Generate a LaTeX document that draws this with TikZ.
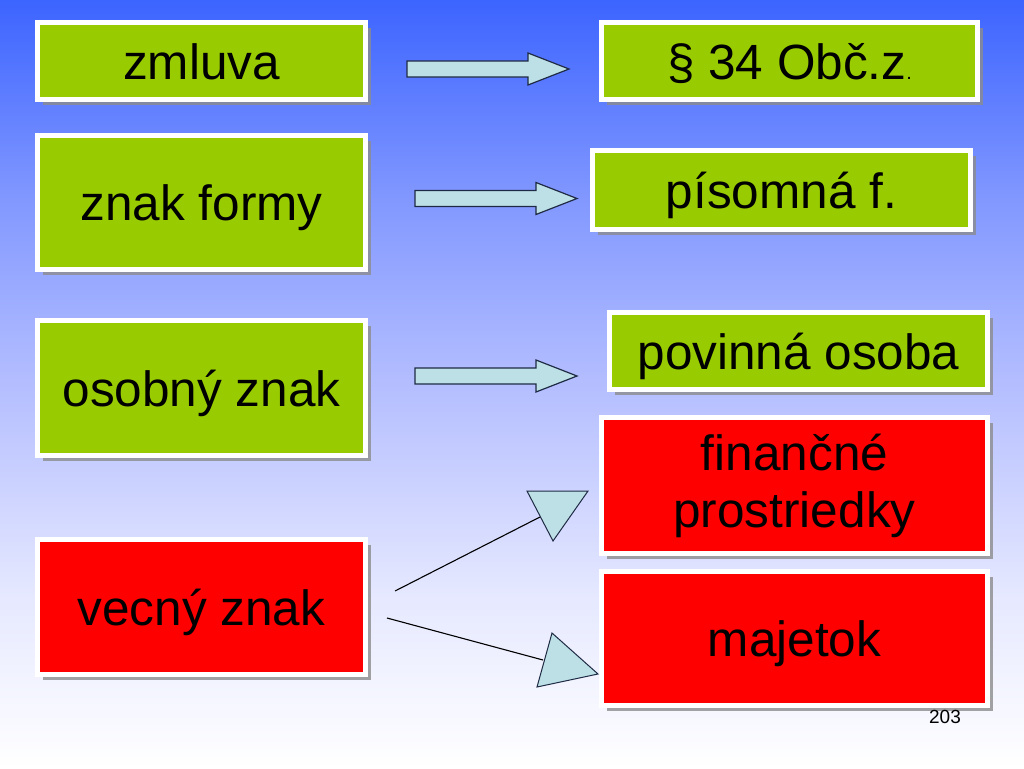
\documentclass[tikz,border=0pt]{standalone}
\usepackage{fontspec}
\setmainfont{Liberation Sans}
\usetikzlibrary{shadows}

\definecolor{boxgreen}{HTML}{99CC00}
\definecolor{boxred}{HTML}{FF0000}
\definecolor{arrowfill}{HTML}{BCE0E6}
\definecolor{arrowline}{HTML}{1F2A44}
\definecolor{bgtop}{HTML}{3C64FF}
\definecolor{bgupper}{HTML}{8298FF}
\definecolor{bgmid}{HTML}{B4BEFF}
\definecolor{bglow}{HTML}{E6E9FF}
\pgfdeclareverticalshading{slidebg}{100bp}{color(0bp)=(white); color(25bp)=(white); color(36bp)=(bglow); color(50bp)=(bgmid); color(62bp)=(bgupper); color(75bp)=(bgtop); color(100bp)=(bgtop)}

\begin{document}
\begin{tikzpicture}[x=1pt,y=-1pt]
\tikzstyle{box}=[draw=white, line width=5pt, inner sep=0pt, align=center, font=\fontsize{49.5}{57}\selectfont, drop shadow={shadow xshift=5.5pt, shadow yshift=-5.5pt, fill=black!45, opacity=0.8}]
\tikzstyle{oneline}=[text height=36pt, text depth=0pt]
\tikzstyle{green}=[box, oneline, fill=boxgreen]
\tikzstyle{red}=[box, fill=boxred]
\tikzstyle{blockarrow}=[draw=arrowline, line width=1.2pt, fill=arrowfill, line join=miter]
\tikzstyle{thinline}=[draw=black, line width=1.1pt]

% background
\shade[shading=slidebg] (0,0) rectangle (1024,768);
\useasboundingbox (0,0) rectangle (1024,768);

% left column
\node[green, minimum width=328pt, minimum height=77pt]  (zmluva)    at (201.5,61)  {zmluva};
\node[green, minimum width=328pt, minimum height=134pt] (znakformy) at (201.5,202.5) {znak formy};
\node[green, minimum width=328pt, minimum height=135pt] (osobny)    at (201.5,388) {osobný znak};
\node[red, oneline, minimum width=328pt, minimum height=135pt] (vecny) at (201.5,607) {vecný znak};

% right column
\node[green, minimum width=376pt, minimum height=77pt]  (paragraf)  at (789.5,61)  {§ 34 Obč.z{\fontsize{20}{24}\selectfont .}};
\node[green, minimum width=378pt, minimum height=79pt]  (pisomna)   at (781.5,190) {písomná f.};
\node[green, minimum width=378pt, minimum height=77pt]  (povinna)   at (798.5,351) {povinná osoba};
\node[red,   minimum width=386pt, minimum height=136pt] (financne)  at (794.5,485.5) {finančné\\prostriedky};
\node[red, oneline, minimum width=386pt, minimum height=134pt] (majetok) at (794.5,638.5) {majetok};

% block arrows
\foreach \name/\x/\y in {a1/407/69, a2/415/198.5, a3/415/376} {
  \coordinate (\name) at (\x,\y);
  \draw[blockarrow] (\name) ++(0,-8) -- ++(121,0) -- ++(0,-8) -- ++(41,16)
    -- ++(-41,16) -- ++(0,-8) -- ++(-121,0) -- cycle;
}

% vecny znak -> financne, majetok
\coordinate (s1) at (395,591);
\coordinate (e1) at (540,517);
\coordinate (s2) at (387,618);
\coordinate (e2) at (543,660);
\draw[thinline] (s1) -- (e1);
\draw[thinline] (s2) -- (e2);
\draw[blockarrow, line width=1pt] (527,491) -- (588,491) -- (553,541) -- cycle;
\draw[blockarrow, line width=1pt] (552,633) -- (598,674) -- (537,687) -- cycle;

% page number
\node[font=\fontsize{19}{22}\selectfont] (page) at (945,717) {203};
\end{tikzpicture}
\end{document}
